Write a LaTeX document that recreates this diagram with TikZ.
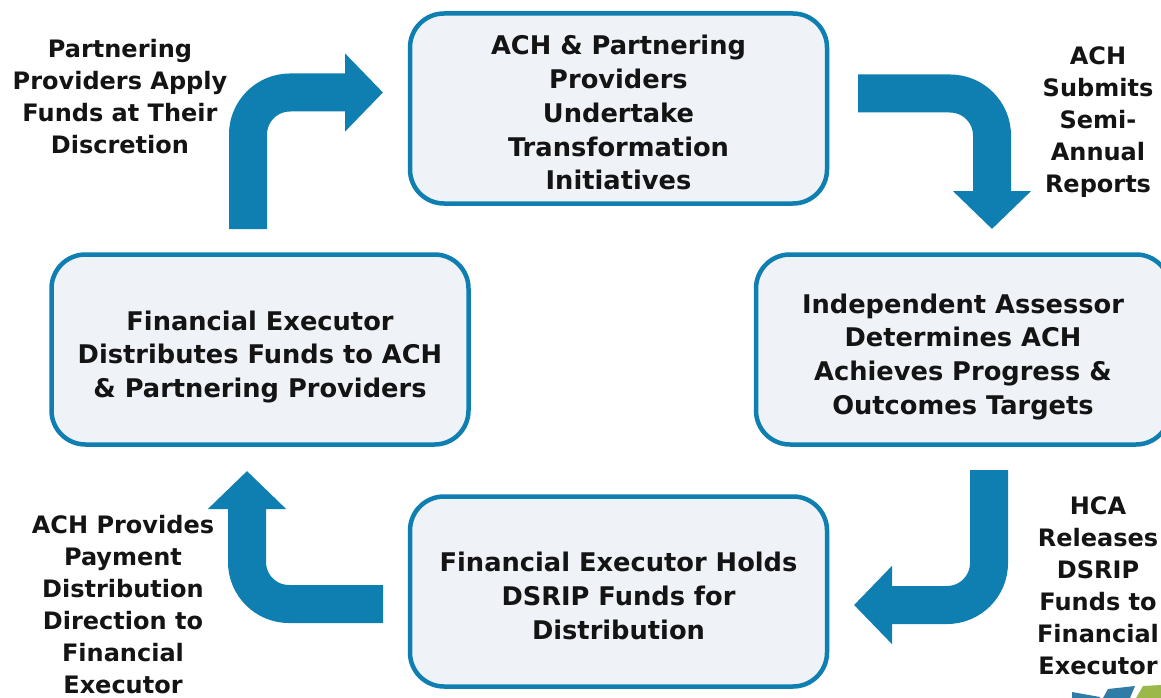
\documentclass[tikz,border=0pt]{standalone}
\usepackage{fontspec}
\setmainfont{DejaVu Sans}
\usetikzlibrary{arrows.meta}
\usetikzlibrary{positioning}
\definecolor{flowblue}{HTML}{0F7FB2}
\definecolor{boxfill}{HTML}{EFF2F6}
\definecolor{logoblue}{HTML}{2F7DA6}
\definecolor{logogreen}{HTML}{9DB84A}
\newcommand{\dropby}[1]{\rule{0pt}{\dimexpr 20pt+2pt*#1\relax}}
\begin{document}
\begin{tikzpicture}[x=1pt,y=-1pt,stepbox/.style={draw=flowblue, line width=4.5pt, fill=boxfill, rounded corners=34pt, minimum height=190pt, minimum width=417pt, align=center, font=\stepfont, text=black!92, inner sep=0pt}]
    \tikzset{flowarrow/.style={draw=flowblue, line width=38pt, rounded corners=42pt, -{Triangle[length=38pt,width=76pt]}}}
    \tikzset{caption/.style={align=center, font=\capfont, text=black!92, inner sep=0pt}}
    \def\stepfont{\bfseries\fontsize{25.7}{33.7}\selectfont}
    \def\capfont{\bfseries\fontsize{24}{32}\selectfont}
    \useasboundingbox (0,0) rectangle (1161,698);
    \clip (0,0) rectangle (1161,698);
    \fill[white] (0,0) rectangle (1161,698);

    \node[stepbox] (initiatives) at (618.5,108.5) {\dropby{4}ACH \& Partnering\\Providers\\Undertake\\Transformation\\Initiatives};
    \node[stepbox, minimum width=414pt] (assessor) at (963,349.5) {\dropby{7}Independent Assessor\\Determines ACH\\Achieves Progress \&\\Outcomes Targets};
    \node[stepbox] (holds) at (618.5,591.5) {\dropby{4}Financial Executor Holds\\DSRIP Funds for\\Distribution};
    \node[stepbox] (distributes) at (260,349.5) {\dropby{7}Financial Executor\\Distributes Funds to ACH\\\& Partnering Providers};

    \node[caption] (apply) at (120,96.5) {Partnering\\Providers Apply\\Funds at Their\\Discretion};
    \node[caption] (submits) at (1098,122) {ACH\\Submits\\Semi-\\Annual\\Reports};
    \node[caption] (releases) at (1098,585.5) {HCA\\Releases\\DSRIP\\Funds to\\Financial\\Executor};
    \node[caption] (direction) at (123,604.5) {ACH Provides\\Payment\\Distribution\\Direction to\\Financial\\Executor};

    % free ends of the block arrows
    \coordinate (a1) at (248,229);
    \coordinate (b1) at (383,92.5);
    \coordinate (a2) at (858,93.5);
    \coordinate (b2) at (992,229);
    \coordinate (a3) at (989,470);
    \coordinate (b3) at (854,605);
    \coordinate (a4) at (383,604);
    \coordinate (b4) at (247,471);

    \draw[flowarrow] (a1) |- (b1);
    \draw[flowarrow] (a2) -| (b2);
    \draw[flowarrow] (a3) |- (b3);
    \draw[flowarrow] (a4) -| (b4);

    % corner of the logo
    \fill[logoblue] (1072,692) -- (1100,697) -- (1100,698) -- (1072,698) -- cycle;
    \fill[logoblue] (1108,689) -- (1135,686) -- (1130,698) -- (1103,698) -- cycle;
    \fill[logogreen] (1143,686) -- (1161,685) -- (1161,698) -- (1136,698) -- cycle;
\end{tikzpicture}
\end{document}
